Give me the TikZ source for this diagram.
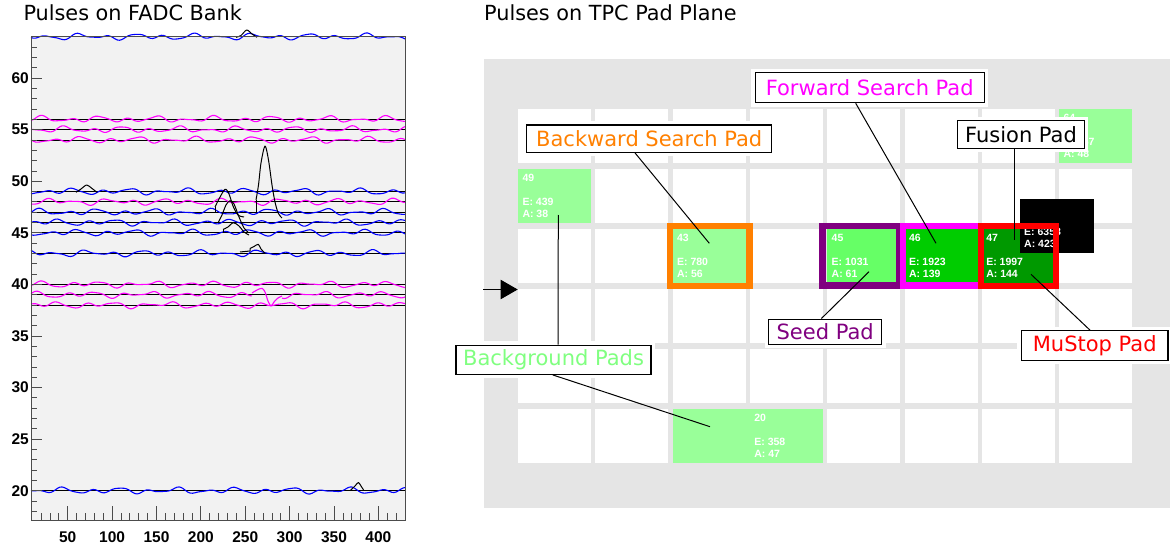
\documentclass[tikz,border=0pt]{standalone}
\usepackage{fontspec}
\setmainfont{DejaVu Sans}
\newfontfamily\axfont{Liberation Sans}
\usetikzlibrary{arrows.meta}
\definecolor{padgray}{RGB}{229,229,229}
\definecolor{framebg}{RGB}{242,242,242}
\definecolor{lgreen}{RGB}{153,255,153}
\definecolor{mgreen}{RGB}{102,255,102}
\definecolor{dgreen}{RGB}{0,204,0}
\definecolor{ddgreen}{RGB}{0,153,0}
\definecolor{orng}{RGB}{255,128,0}
\definecolor{purp}{RGB}{128,0,128}
\definecolor{magn}{RGB}{255,0,255}
\definecolor{bgtxt}{RGB}{128,255,128}
\definecolor{trblue}{RGB}{0,0,255}
\definecolor{redc}{RGB}{255,0,0}
\newcommand{\yv}[1]{490.7-(#1-20)*10.317}
\newcommand{\trc}[6]{\draw[trace,#3] plot[domain=#1:#2,samples=170,smooth,variable=\t] (\t,{#4+1.9*sin(12.5*\t+#5)+1.4*sin(6.3*\t+#6)+0.7*sin(21*\t+#5+#6)});}
\newcommand{\padtxt}[6]{%
  \node[ptxt,anchor=base west] (#1n) at (#2,#3+12.1) {#4};
  \node[ptxt,anchor=base west] (#1e) at (#2,#3+36.5) {#5};
  \node[ptxt,anchor=base west] (#1a) at (#2,#3+48.1) {#6};}
\begin{document}
\begin{tikzpicture}[x=1pt,y=-1pt,
  trace/.style={line width=1.1pt,line join=round},
  base/.style={black,line width=0.8pt},
  pulse/.style={black,line width=1pt,line join=round},
  ptxt/.style={white,inner sep=0pt,font=\axfont\bfseries\fontsize{10.5}{12}\selectfont},
  lbl/.style={draw=black,line width=1.1pt,fill=white,preaction={draw=white,line width=8pt},inner sep=0pt,font=\fontsize{21}{25}\selectfont},
  ttl/.style={inner sep=0pt,font=\fontsize{20.8}{25}\selectfont},
  axl/.style={inner sep=0pt,font=\axfont\bfseries\fontsize{15.5}{18}\selectfont},
  lead/.style={black,line width=1pt},
  ring/.style={line width=6.4pt}]
\useasboundingbox (0,0) rectangle (1170,548);
\fill[white] (0,0) rectangle (1170,548);
% titles
\node[ttl,anchor=base west] (t1) at (23.3,20.7) {Pulses on FADC Bank};
\node[ttl,anchor=base west] (t2) at (484,20.7) {Pulses on TPC Pad Plane};
% ---------------- left panel
\fill[framebg] (31,36.7) rectangle (405,520);
\foreach \v in {64,56,55,54,49,48,47,46,45,43,40,39,38,20}
  \draw[base] (31,{\yv{\v}}) -- (405,{\yv{\v}});
% blue traces
\trc{31}{405}{trblue}{\yv{64}}{20}{100}
\trc{31}{405}{trblue}{\yv{49}}{70}{200}
\trc{31}{405}{trblue}{\yv{47}}{140}{30}
\trc{31}{405}{trblue}{\yv{46}}{250}{300}
\trc{31}{405}{trblue}{\yv{45}}{10}{170}
\trc{31}{405}{trblue}{\yv{43}}{300}{60}
\trc{31}{405}{trblue}{\yv{20}}{200}{250}
% magenta traces
\trc{31}{405}{magn}{\yv{56}}{110}{10}
\trc{31}{405}{magn}{\yv{55}}{190}{220}
\trc{31}{405}{magn}{\yv{54}}{330}{140}
\trc{31}{405}{magn}{\yv{48}}{40}{280}
\trc{31}{405}{magn}{\yv{40}}{90}{50}
\trc{31}{252}{magn}{\yv{39}}{150}{80}
\draw[trace,magn] plot[smooth] coordinates {(252,293)(257,290)(262,288.3)(265,292)(268,301)(271,306)(274,302)(278,298)(282,296)};
\trc{282}{405}{magn}{\yv{39}}{150}{80}
\trc{31}{405}{magn}{\yv{38}}{260}{320}
% pulses
\draw[pulse] plot[smooth] coordinates {(236,37.3)(241,35.5)(246.7,30)(252,34)(257,37.3)};
\draw[pulse] plot[smooth] coordinates {(76,192.3)(81,189)(86.7,185)(92,188.5)(97,192.3)};
\draw[pulse] (215,212.3) -- (215,207);
\draw[pulse] plot[smooth] coordinates {(215,207)(219,199)(225,189.3)(229,194)(233,206)(238,215)(244,217)};
\draw[pulse] plot[smooth] coordinates {(218.3,222.3)(222,215)(226,205)(230,200.7)(234,204)(239,217)(244,228)(248,232)};
\draw[pulse] (223,233) -- (223,229.5);
\draw[pulse] plot[smooth] coordinates {(223,229.5)(228,227)(233.3,222.7)(239,226)(244,232)(249,235)};
\draw[pulse] (256,213) -- (256,200);
\draw[pulse] plot[smooth] coordinates {(256,200)(258.5,185)(261,163)(265,146)(268.5,160)(272,185)(275,202)(278.3,213.3)(282,218)};
\draw[pulse] (240,252) -- (250,251) -- (250,248.5);
\draw[pulse] plot[smooth] coordinates {(250,248.5)(254,246.5)(258.3,244.3)(261,249)(265,253.3)};
\draw[pulse] plot[smooth] coordinates {(350,490.7)(355,486)(358.3,482.5)(361,486)(364,490.7)};
% frame
\draw[black!70,line width=0.8pt] (31,36.7) rectangle (405,520);
\foreach \v in {18,...,63} \draw[black!70,line width=0.7pt] (31,{\yv{\v}}) -- ++(5.5,0);
\foreach \v in {20,25,...,60} {
  \draw[black!70,line width=0.8pt] (31,{\yv{\v}}) -- ++(11,0);
  \node[axl,anchor=east] (yl\v) at (29,{\yv{\v}}) {\v};}
\foreach \j in {-3,...,37} \draw[black!70,line width=0.7pt] ({67.7+8.876*\j},520) -- ++(0,-7);
\foreach \k [evaluate=\k as \n using {int(50*(\k+1))}] in {0,...,7} {
  \draw[black!70,line width=0.8pt] ({67.7+44.38*\k},520) -- ++(0,-14);
  \node[axl] (xl\k) at ({67.7+44.38*\k},537) {\n};}
% ---------------- right panel
\fill[padgray] (484,59.3) rectangle (1170,508);
\foreach \c in {0,...,7} \foreach \r in {0,...,5}
  \fill[white] ({518+77.3*\c},{109.3+60*\r}) rectangle ++(73,54);
% pads
\fill[lgreen] (518,169.3) rectangle ++(73,54);
\padtxt{p49}{522.3}{169.3}{49}{E: 439}{A: 38}
\fill[lgreen] (1059.1,109.3) rectangle ++(73,54);
\padtxt{p64}{1063.4}{109.3}{64}{E: 557}{A: 48}
\fill[lgreen] (672.6,229.3) rectangle ++(73,54);
\padtxt{p43}{676.9}{229.3}{43}{E: 780}{A: 56}
\fill[mgreen] (827.2,229.3) rectangle ++(73,54);
\padtxt{p45}{831.5}{229.3}{45}{E: 1031}{A: 61}
\fill[dgreen] (904.5,229.3) rectangle ++(73,54);
\padtxt{p46}{908.8}{229.3}{46}{E: 1923}{A: 139}
\fill[ddgreen] (981.8,229.3) rectangle ++(73,54);
\padtxt{p47}{986.1}{229.3}{47}{E: 1997}{A: 144}
\fill[lgreen] (672.6,409.3) rectangle (823,463.3);
\padtxt{p20}{754.2}{409.3}{20}{E: 358}{A: 47}
% black (fusion) box
\fill[black] (1020,199.3) rectangle (1094,252.7);
\node[ptxt,anchor=base west] (fe) at (1024,235.8) {E: 6358};
\node[ptxt,anchor=base west] (fa) at (1024,247.4) {A: 423};
% rings
\draw[ring,orng] (669.9,225.9) rectangle (749.5,286.1);
\draw[ring,purp] (822.5,225.9) rectangle (899.2,285.6);
\draw[ring,magn] (903.2,225.9) rectangle (980.8,285.6);
\draw[ring,redc] (980.9,225.9) rectangle (1056.1,286.1);
% arrow
\coordinate (aS) at (483,289.5);
\coordinate (aE) at (517.7,289.5);
\draw[lead,-{Triangle[length=17pt,width=19.3pt]}] (aS) -- (aE);
% labels
\node[lbl,text=orng,minimum width=245pt,minimum height=27.3pt] (lBack) at (649.2,138.7) {Backward Search Pad};
\node[lbl,text=magn,minimum width=228.7pt,minimum height=30pt] (lFwd) at (869.7,87.7) {Forward Search Pad};
\node[lbl,text=black,minimum width=126.6pt,minimum height=27.6pt] (lFus) at (1021,134.5) {Fusion Pad};
\node[lbl,text=purp,minimum width=113.3pt,minimum height=25.3pt] (lSeed) at (825.2,331.7) {Seed Pad};
\node[lbl,text=redc,minimum width=146.6pt,minimum height=29.6pt] (lMu) at (1094.7,345.5) {MuStop Pad};
\node[lbl,text=bgtxt,minimum width=195pt,minimum height=29.3pt] (lBg) at (553.5,359.7) {Background Pads};
% leaders
\coordinate (c43) at (709.3,243.3);
\coordinate (c46) at (936,243.3);
\coordinate (cFus) at (1014.3,240);
\coordinate (c45) at (869,271.7);
\coordinate (c47) at (1031,274.3);
\coordinate (c49) at (558.3,215);
\coordinate (c20) at (710,426.7);
\draw[lead] (lBack.south -| 635,0) -- (c43);
\draw[lead] (lFwd.south -| 855.7,0) -- (c46);
\draw[lead] (lFus.south -| 1014.3,0) -- (cFus);
\draw[lead] (lSeed.north -| 821.4,0) -- (c45);
\draw[lead] (lMu.north -| 1090,0) -- (c47);
\draw[lead] (lBg.north -| 558,0) -- (c49);
\draw[lead] (lBg.south -| 552.7,0) -- (c20);
\end{tikzpicture}
\end{document}
